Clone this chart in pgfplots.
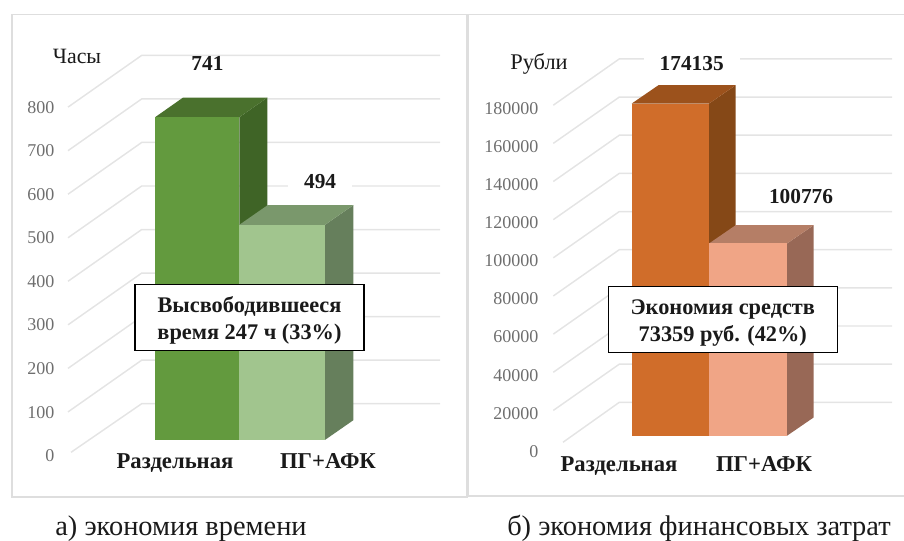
\documentclass[border=0pt]{standalone}
\usepackage{fontspec}
\setmainfont{Liberation Serif}
\usepackage{pgfplots}
\pgfplotsset{compat=1.18}
\definecolor{grdc}{HTML}{E4E4E4}
\definecolor{frm}{HTML}{DEDEDE}
\definecolor{tck}{HTML}{6E6E6E}
\definecolor{txt}{HTML}{1A1A1A}
\definecolor{gF}{HTML}{639A3E}
\definecolor{gS}{HTML}{3F6426}
\definecolor{gT}{HTML}{4A712D}
\definecolor{lF}{HTML}{A1C58E}
\definecolor{lS}{HTML}{667F5C}
\definecolor{lT}{HTML}{7A986C}
\definecolor{oF}{HTML}{D06D2A}
\definecolor{oS}{HTML}{854817}
\definecolor{oT}{HTML}{9C521C}
\definecolor{pF}{HTML}{F0A586}
\definecolor{pS}{HTML}{986856}
\definecolor{pT}{HTML}{B57E66}
\tikzset{bx/.style={draw=black, line width=0.9pt, fill=white, align=center, text=txt, inner sep=0pt,
      font=\bfseries\fontsize{16.75pt}{20.2pt}\selectfont}}
\pgfplotsset{
  panel/.style={
    scale only axis, anchor=south west, clip=true,
    axis line style={frm, line width=1.1pt},
    major tick length=0pt, tick style={draw=none},
    scaled y ticks=false,
    /pgf/number format/fixed,
    /pgf/number format/precision=0,
    /pgf/number format/assume math mode=true,
    /pgf/number format/1000 sep={},
    yticklabel style={anchor=east, text=tck, font=\fontsize{13.5pt}{14pt}\selectfont},
    xticklabel style={text=txt, font=\bfseries\fontsize{17pt}{18pt}\selectfont},
  },
  grd/.style={draw=grdc, line width=1.1pt},
  dlab/.style={nodes near coords, nodes near coords style={anchor=center, fill=white, inner xsep=12pt, inner ysep=0pt, text=txt,
      font=\bfseries\fontsize{16pt}{17pt}\selectfont, #1}},
}
\begin{document}
\begin{tikzpicture}
\path[use as bounding box] (0,0) rectangle (678pt,405.75pt);
% ---------------- left panel
\begin{axis}[panel, at={(9pt,33.1pt)}, width=341.25pt, height=361.8pt,
  xmin=12, xmax=467, ymin=-130.77, ymax=977.18,
  ytick={0,100,200,300,400,500,600,700,800},
  xtick={175,328}, xticklabels={Раздельная,ПГ+АФК},
  yticklabel style={xshift=35.25pt, yshift=-11.8pt},
  xticklabel style={yshift=35.7pt},
  ylabel={Часы},
  every axis y label/.style={at={(axis description cs:0.1429,0.912)}, anchor=center, font=\fontsize{16.4pt}{17pt}\selectfont, text=txt},
]
\addplot[grd] coordinates {(71,-28.5)(141.7,83.2)(440,83.2)};
\addplot[grd] coordinates {(68,64.3)(141.7,183.2)(440,183.2)};
\addplot[grd] coordinates {(68,164.3)(141.7,283.2)(440,283.2)};
\addplot[grd] coordinates {(68,264.3)(141.7,383.2)(440,383.2)};
\addplot[grd] coordinates {(68,364.3)(141.7,483.2)(440,483.2)};
\addplot[grd] coordinates {(68,464.3)(141.7,583.2)(440,583.2)};
\addplot[grd] coordinates {(68,564.3)(141.7,683.2)(440,683.2)};
\addplot[grd] coordinates {(68,664.3)(141.7,783.2)(440,783.2)};
\addplot[grd] coordinates {(68,764.3)(141.7,883.2)(440,883.2)};
% side and top of the first bar
\addplot[fill=gS, draw=none] coordinates {(239.3,0)(267.3,45.2)(267.3,786.2)(239.3,741)};
\addplot[fill=gT, draw=none] coordinates {(155,741)(183,786.2)(267.3,786.2)(239.3,741)};
\addplot[ybar, bar shift=0pt, bar width=84.3, fill=gF, draw=none, dlab={xshift=7.7pt, yshift=40.1pt}] coordinates {(197.15,741)};
% side and top of the second bar
\addplot[fill=lS, draw=none] coordinates {(325,0)(353.3,45.2)(353.3,539.2)(325,494)};
\addplot[fill=lT, draw=none] coordinates {(239.3,494)(267.6,539.2)(353.3,539.2)(325,494)};
\addplot[ybar, bar shift=0pt, bar width=85.7, fill=lF, draw=none, dlab={xshift=28.5pt, yshift=32.3pt}] coordinates {(282.15,494)};
\node[bx, minimum width=171.75pt, minimum height=49.7pt] at (axis cs:249.5,281.3) {\rule{0pt}{16.5pt}Высвободившееся\\время 247 ч (33\%)};
\end{axis}
% ---------------- right panel
\begin{axis}[panel, at={(351.375pt,33.9pt)}, width=331.125pt, height=361pt,
  xmin=468.5, xmax=910, ymin=-31471, ymax=220836,
  ytick={0,20000,40000,60000,80000,100000,120000,140000,160000,180000},
  xtick={619,764}, xticklabels={Раздельная,ПГ+АФК},
  yticklabel style={xshift=55.9pt, yshift=-11.85pt},
  xticklabel style={yshift=32.6pt},
  ylabel={Рубли},
  every axis y label/.style={at={(axis description cs:0.1597,0.897)}, anchor=center, font=\fontsize{16.8pt}{17pt}\selectfont, text=txt},
]
\addplot[grd] coordinates {(563,-3418)(619.3,17526)(892,17526)};
\addplot[grd] coordinates {(553.3,13272)(619.3,37526)(892,37526)};
\addplot[grd] coordinates {(553.3,33272)(619.3,57526)(892,57526)};
\addplot[grd] coordinates {(553.3,53272)(619.3,77526)(892,77526)};
\addplot[grd] coordinates {(553.3,73272)(619.3,97526)(892,97526)};
\addplot[grd] coordinates {(553.3,93272)(619.3,117526)(892,117526)};
\addplot[grd] coordinates {(553.3,113272)(619.3,137526)(892,137526)};
\addplot[grd] coordinates {(553.3,133272)(619.3,157526)(892,157526)};
\addplot[grd] coordinates {(553.3,153272)(619.3,177526)(892,177526)};
\addplot[grd] coordinates {(553.3,173272)(619.3,197526)(892,197526)};
\addplot[fill=oS, draw=none] coordinates {(709,0)(735.7,9604)(735.7,183739)(709,174135)};
\addplot[fill=oT, draw=none] coordinates {(631.7,174135)(658.4,183739)(735.7,183739)(709,174135)};
\addplot[ybar, bar shift=0pt, bar width=77.3, fill=oF, draw=none, dlab={xshift=16pt, yshift=29.7pt}] coordinates {(670.35,174135)};
\addplot[fill=pS, draw=none] coordinates {(787,0)(813.7,9604)(813.7,110380)(787,100776)};
\addplot[fill=pT, draw=none] coordinates {(709,100776)(735.7,110380)(813.7,110380)(787,100776)};
\addplot[ybar, bar shift=0pt, bar width=78, fill=pF, draw=none, dlab={xshift=39.75pt, yshift=35.5pt}] coordinates {(748,100776)};
\node[bx, minimum width=171.75pt, minimum height=49.4pt] at (axis cs:722.8,60800) {\rule{0pt}{16.5pt}Экономия средств\\73359 руб. (42\%)};
\end{axis}
\node[inner sep=0pt, font=\fontsize{21.3pt}{22pt}\selectfont, text=txt] at (135.75pt,9.4pt) {а) экономия времени};
\node[inner sep=0pt, font=\fontsize{21.3pt}{22pt}\selectfont, text=txt] at (524.25pt,9.4pt) {б) экономия финансовых затрат};
\end{tikzpicture}
\end{document}
